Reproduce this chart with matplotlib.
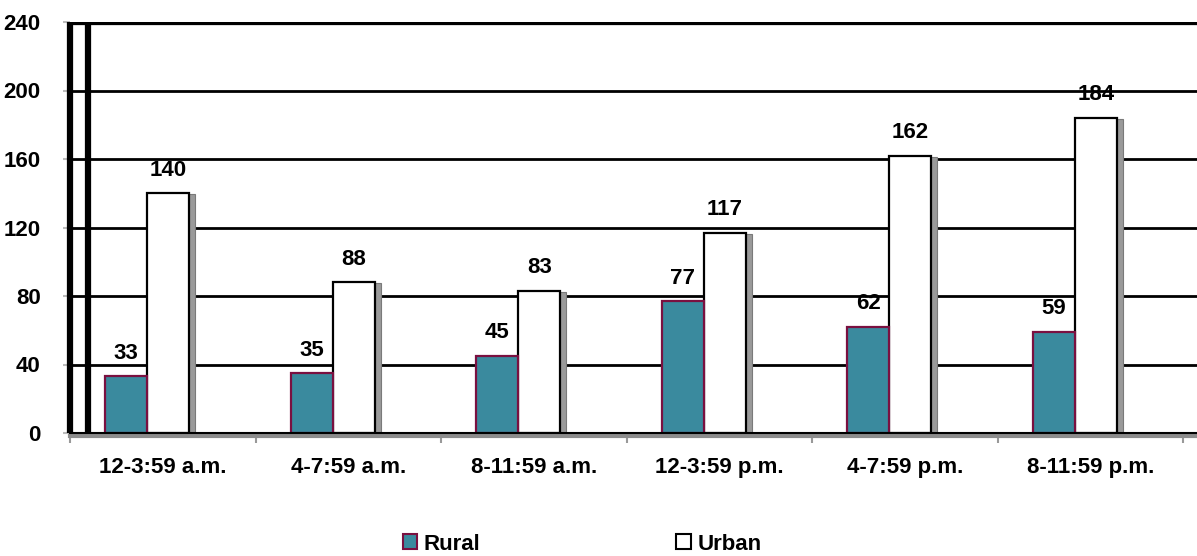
import numpy as np
import matplotlib
matplotlib.use('Agg')
import matplotlib.pyplot as plt
from matplotlib.patches import Patch

# data
categories = ['12-3:59 a.m.', '4-7:59 a.m.', '8-11:59 a.m.',
              '12-3:59 p.m.', '4-7:59 p.m.', '8-11:59 p.m.']
rural = [33, 35, 45, 77, 62, 59]
urban = [140, 88, 83, 117, 162, 184]

plt.rcParams['font.family'] = ['Liberation Sans', 'DejaVu Sans']
plt.rcParams['font.weight'] = 'bold'

rural_color = '#3a8a9e'
rural_edge = '#7a1040'
shadow_color = '#9a9a9a'
fs = 16

fig = plt.figure(figsize=(11.97, 5.56), dpi=100)
ax = fig.add_axes([70/1197, 123/556, 1 - 70/1197, 411/556])

x = np.arange(len(categories))
w = 0.227
r_left = x - 0.311
u_left = r_left + w

# gridlines
for yv in [40, 80, 120, 160, 200]:
    ax.axhline(yv, color='black', lw=2, zorder=1)
ax.axhline(240, color='black', lw=4.5, zorder=1)
# back wall line
ax.axvline(-0.403, color='black', lw=4.5, zorder=1)

# urban shadow + bars
ax.bar(u_left + 0.032, np.array(urban) - 0.6, width=w, align='edge',
       color=shadow_color, edgecolor='#7a7a7a', lw=0.8, zorder=2)
ax.bar(u_left, urban, width=w, align='edge', color='white',
       edgecolor='black', lw=1.6, zorder=3)
ax.bar(r_left, rural, width=w, align='edge', color=rural_color,
       edgecolor=rural_edge, lw=1.6, zorder=4)

for xi, v in zip(r_left + w/2, rural):
    ax.annotate(str(v), (xi, v), xytext=(0, 9), textcoords='offset points',
                ha='center', va='bottom', fontsize=fs, fontweight='bold')
for xi, v in zip(u_left + w/2, urban):
    ax.annotate(str(v), (xi, v), xytext=(0, 9), textcoords='offset points',
                ha='center', va='bottom', fontsize=fs, fontweight='bold')

ax.set_xlim(-0.5, -0.5 + (1197 - 70) / 185.5)
ax.set_ylim(0, 240)
ax.set_yticks([0, 40, 80, 120, 160, 200, 240])
ax.tick_params(axis='y', length=5, width=1.5, color='#bbbbbb', pad=16,
               labelsize=fs)
ax.set_xticks(x)
ax.set_xticks(np.arange(-0.5, 6, 1), minor=True)
ax.set_xticklabels(categories)
ax.tick_params(axis='x', which='major', length=0, pad=15, labelsize=fs)
ax.tick_params(axis='x', which='minor', length=5, width=1.5, color='#999999')
for lab in ax.get_yticklabels() + ax.get_xticklabels():
    lab.set_fontweight('bold')

ax.spines['top'].set_visible(False)
ax.spines['right'].set_visible(False)
ax.spines['left'].set_linewidth(4.5)
ax.spines['left'].set_capstyle('butt')
ax.spines['bottom'].set_color('#8c8c8c')
ax.spines['bottom'].set_linewidth(3)
ax.spines['bottom'].set_position(('outward', 2))
ax.axhline(0, color='black', lw=1.5, zorder=5, clip_on=False)

handles = [Patch(facecolor=rural_color, edgecolor=rural_edge, lw=1.5),
           Patch(facecolor='white', edgecolor='black', lw=1.5)]
fig.legend(handles, ['Rural', 'Urban'], loc='center', ncol=2,
           bbox_to_anchor=(582/1197, 12/556), frameon=False,
           prop={'size': fs, 'weight': 'bold'}, columnspacing=8.8,
           handlelength=0.65, handleheight=0.65, handletextpad=0.3)

fig.savefig('out.png', dpi=100)
